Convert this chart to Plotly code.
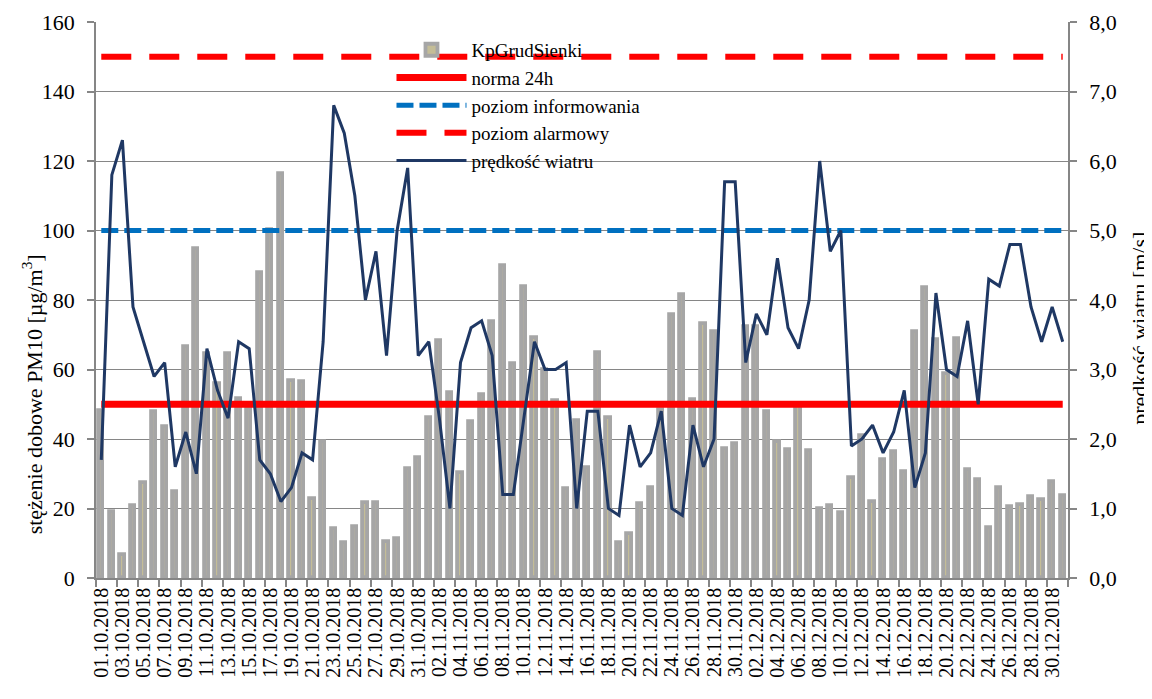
import pandas as pd
import plotly.graph_objects as go

# daily dates 01.10.2018 - 31.12.2018
dates = pd.date_range("2018-10-01", "2018-12-31", freq="D").strftime("%d.%m.%Y").tolist()

# PM10 daily concentration [ug/m3], station KpGrudSienki
pm10 = [48, 19, 6.6, 20.7, 27.4, 47.7, 43.5, 24.8, 66.6, 94.6,
        64.4, 55.8, 64.6, 51.5, 49, 87.9, 100.1, 116.4, 56.8, 56.3,
        22.7, 39, 14, 10, 14.6, 21.7, 21.6, 10.3, 11.1, 31.3,
        34.6, 46, 68.2, 53.1, 30.1, 44.8, 52.8, 73.6, 89.9, 61.7,
        83.6, 69, 60, 51, 25.5, 45.3, 31.7, 64.8, 46, 10,
        12.6, 21.2, 25.9, 48.3, 75.7, 81.5, 51.2, 73, 70.9, 37.1,
        38.5, 72.3, 72.3, 47.7, 39, 36.8, 50, 36.6, 20, 20.7,
        18.6, 28.7, 40.9, 22, 34, 36.2, 30.5, 70.9, 83.4, 68.5,
        58.7, 68.7, 31.1, 28.2, 14.3, 25.8, 20.5, 21, 23.2, 22.4,
        27.7, 23.6]

# wind speed [m/s]
wind = [1.7, 5.8, 6.3, 3.9, 3.4, 2.9, 3.1, 1.6, 2.1, 1.5,
        3.3, 2.7, 2.3, 3.4, 3.3, 1.7, 1.5, 1.1, 1.3, 1.8,
        1.7, 3.4, 6.8, 6.4, 5.5, 4.0, 4.7, 3.2, 5.0, 5.9,
        3.2, 3.4, 2.3, 1.0, 3.1, 3.6, 3.7, 3.2, 1.2, 1.2,
        2.3, 3.4, 3.0, 3.0, 3.1, 1.0, 2.4, 2.4, 1.0, 0.9,
        2.2, 1.6, 1.8, 2.4, 1.0, 0.9, 2.2, 1.6, 2.0, 5.7,
        5.7, 3.1, 3.8, 3.5, 4.6, 3.6, 3.3, 4.0, 6.0, 4.7,
        5.0, 1.9, 2.0, 2.2, 1.8, 2.1, 2.7, 1.3, 1.8, 4.1,
        3.0, 2.9, 3.7, 2.5, 4.3, 4.2, 4.8, 4.8, 3.9, 3.4,
        3.9, 3.4]

norma_24h = 50
poziom_informowania = 100
poziom_alarmowy = 150

idx = list(range(len(dates)))
n = len(dates)

font_family = "Liberation Serif"
grid_color = "#868686"

fig = go.Figure()

fig.add_trace(go.Bar(x=idx, y=pm10, name="KpGrudSienki", width=0.4,
                     marker=dict(color="#c4bd97", line=dict(color="#a6a6a6", width=3.8))))
fig.add_trace(go.Scatter(x=idx, y=[norma_24h] * n, name="norma 24h", mode="lines",
                         line=dict(color="#ff0000", width=7)))
fig.add_trace(go.Scatter(x=idx, y=[poziom_informowania] * n, name="poziom informowania", mode="lines",
                         line=dict(color="#0070c0", width=5, dash="17px,6px")))
fig.add_trace(go.Scatter(x=idx, y=[poziom_alarmowy] * n, name="poziom alarmowy", mode="lines",
                         line=dict(color="#ff0000", width=6, dash="30px,18px")))
fig.add_trace(go.Scatter(x=idx, y=wind, name="prędkość wiatru", mode="lines", yaxis="y2",
                         line=dict(color="#1f3864", width=3)))

axis_common = dict(showline=True, linecolor=grid_color, linewidth=1.5, automargin=False,
                   ticks="outside", ticklen=7, tickcolor=grid_color, tickwidth=1.5,
                   ticklabelstandoff=8, zeroline=False, tickfont=dict(size=22))

# page body adds an 8px offset, margins compensate for it
fig.update_layout(
    width=1152, height=699,
    margin=dict(l=88, r=92, t=14, b=129, autoexpand=False),
    paper_bgcolor="white", plot_bgcolor="white",
    font=dict(family=font_family, size=22, color="black"),
    separators=", ",
    bargap=0,
    showlegend=True,
    legend=dict(x=0.304, y=0.984, xanchor="left", yanchor="top",
                bgcolor="rgba(0,0,0,0)", font=dict(size=19), itemwidth=70,
                traceorder="normal"),
    xaxis=dict(
        domain=[0, 1],
        range=[-0.5, n - 0.5],
        automargin=False,
        tickmode="array",
        tickvals=idx[::2],
        ticktext=dates[::2],
        tickangle=-90,
        tickfont=dict(size=20),
        ticks="",
        showgrid=False,
        showline=True, linecolor=grid_color, linewidth=1.5,
        minor=dict(tickmode="array", tickvals=[i - 0.5 for i in idx[::2]] + [n - 0.5],
                   ticks="outside", ticklen=7, tickcolor=grid_color, tickwidth=1.5),
    ),
    yaxis=dict(range=[0, 160], dtick=20, showgrid=True, gridcolor=grid_color, gridwidth=1.3,
               **axis_common),
    yaxis2=dict(range=[0, 8], dtick=1, tickformat=".1f", showgrid=False,
                overlaying="y", side="right", anchor="x", **axis_common),
    annotations=[
        dict(text="stężenie dobowe PM10 [µg/m<sup>3</sup>]", xref="paper", yref="paper",
             x=-0.066, y=0.33, xanchor="center", yanchor="middle",
             textangle=-90, showarrow=False, font=dict(size=22)),
        dict(text="prędkość wiatru [m/s]", xref="paper", yref="paper",
             x=1.074, y=0.45, xanchor="center", yanchor="middle",
             textangle=-90, showarrow=False, font=dict(size=22)),
    ],
)

fig.write_html("out.html")
